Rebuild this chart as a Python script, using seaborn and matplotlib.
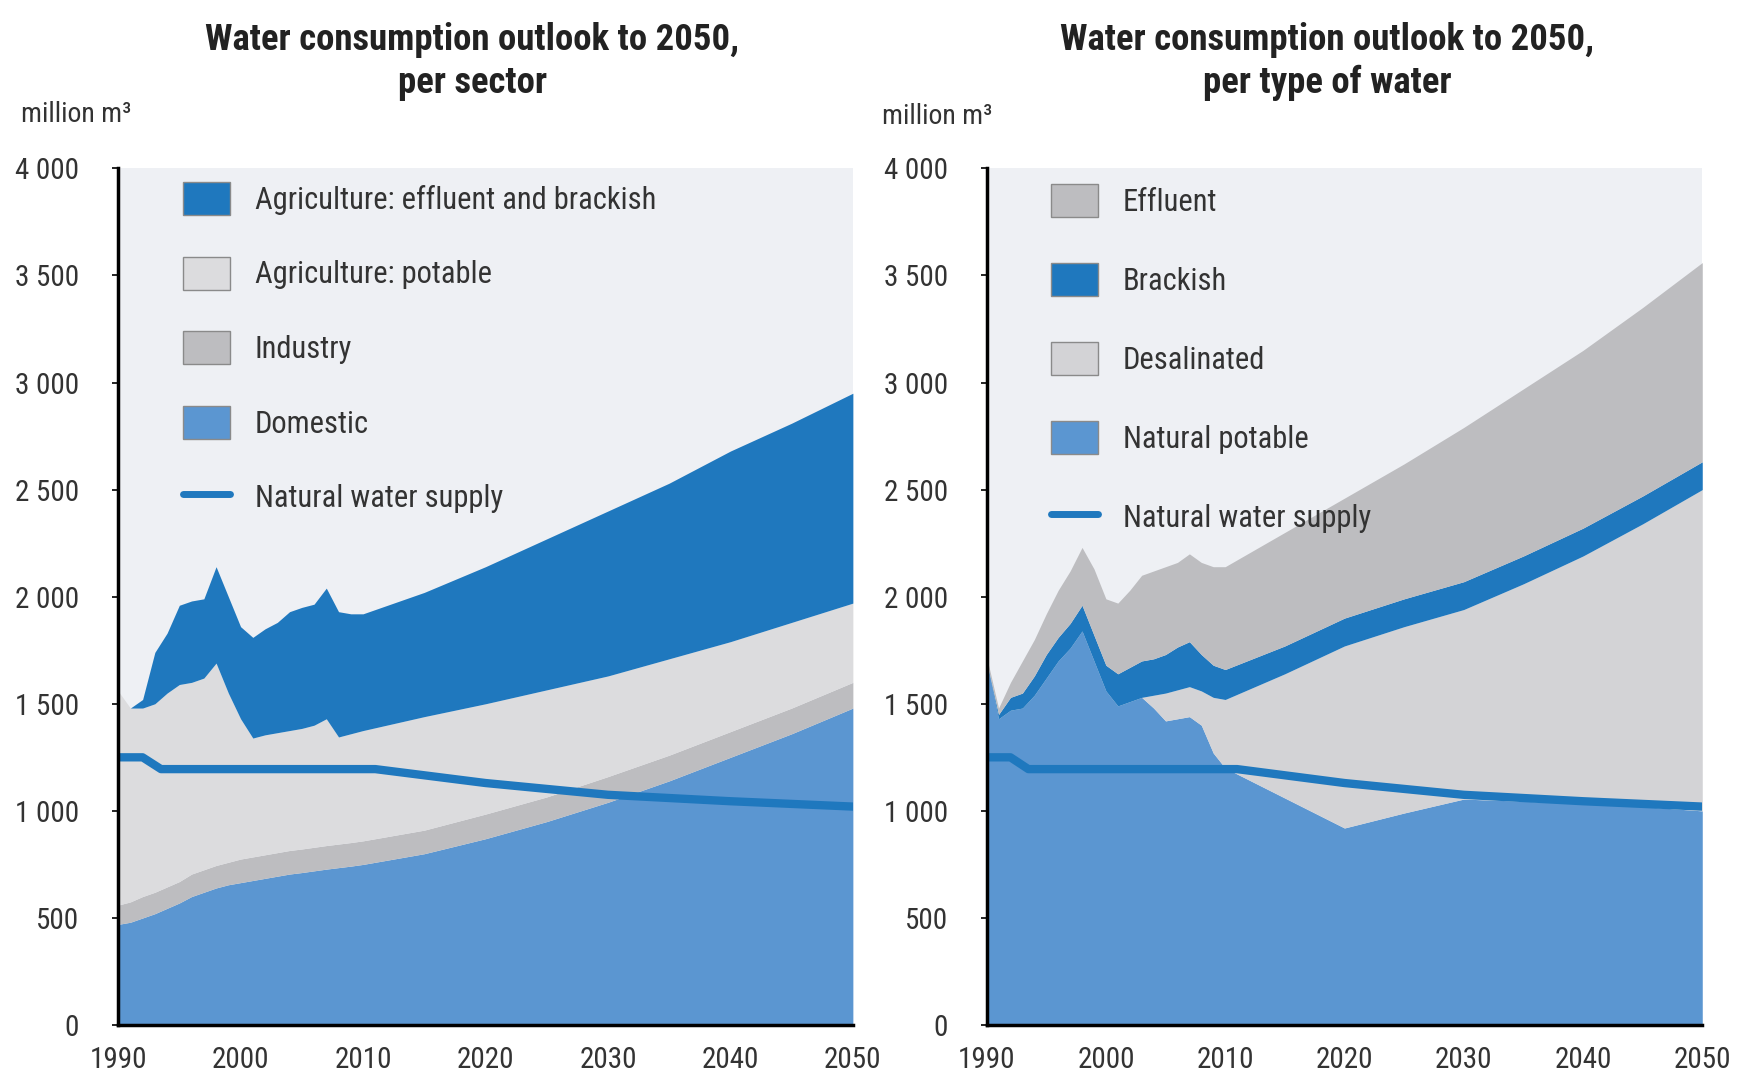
import numpy as np
import pandas as pd
import seaborn as sns
import matplotlib.pyplot as plt
from matplotlib.patches import Patch
from matplotlib.lines import Line2D
from matplotlib.ticker import FuncFormatter, MultipleLocator

# === data (million m3) ===
years = [1990, 1991, 1992, 1993, 1994, 1995, 1996, 1997, 1998, 1999, 2000,
         2001, 2002, 2003, 2004, 2005, 2006, 2007, 2008, 2009, 2010,
         2015, 2020, 2025, 2030, 2035, 2040, 2045, 2050]

# per sector (stacked from the bottom)
domestic = [470, 480, 500, 520, 545, 570, 600, 620, 640, 655, 665,
            675, 685, 695, 705, 712, 720, 728, 735, 742, 750,
            800, 870, 950, 1040, 1140, 1250, 1360, 1480]
industry = [90, 95, 100, 100, 100, 100, 105, 105, 105, 105, 110,
            110, 110, 110, 110, 110, 110, 110, 110, 110, 110,
            110, 115, 115, 120, 120, 120, 120, 120]
agri_potable = [1000, 905, 880, 880, 905, 920, 895, 895, 945, 790, 655,
                555, 560, 560, 560, 563, 570, 592, 500, 508, 515,
                530, 515, 500, 470, 450, 420, 400, 370]
agri_eff_brack = [0, 0, 40, 240, 280, 370, 380, 370, 450, 450, 430,
                  470, 495, 515, 555, 565, 565, 610, 585, 560, 545,
                  580, 640, 705, 770, 820, 890, 930, 980]

# per type of water (stacked from the bottom)
natural_potable = [1700, 1430, 1470, 1480, 1540, 1620, 1700, 1760, 1840, 1700, 1560,
                   1490, 1510, 1530, 1480, 1420, 1430, 1440, 1400, 1270, 1200,
                   1060, 920, 990, 1055, 1045, 1035, 1020, 1000]
desalinated = [0, 0, 0, 0, 0, 0, 0, 0, 0, 0, 0,
               0, 0, 0, 60, 130, 135, 140, 160, 260, 320,
               580, 850, 870, 885, 1015, 1155, 1320, 1500]
brackish = [0, 20, 60, 70, 90, 110, 110, 115, 120, 120, 120,
            150, 160, 170, 170, 180, 200, 210, 170, 150, 140,
            130, 130, 130, 130, 130, 130, 130, 130]
effluent = [20, 30, 70, 150, 170, 190, 220, 245, 270, 310, 310,
            330, 360, 400, 410, 410, 395, 410, 430, 460, 480,
            530, 560, 630, 720, 780, 830, 880, 930]

supply_years = [1990, 1992, 1993.5, 2011, 2020, 2030, 2040, 2050]
supply = [1250, 1250, 1195, 1195, 1130, 1075, 1045, 1020]

# === colours ===
DARK_BLUE = "#1f78be"
MID_BLUE = "#5b96d1"
LIGHT_GREY = "#dcdcde"
MID_GREY = "#bdbdc0"
DESAL_GREY = "#d3d3d6"
PLOT_BG = "#eef0f4"
TXT = "#333333"

sns.set_theme(style="white")
plt.rcParams["font.family"] = ["Liberation Sans Narrow", "Roboto Condensed",
                               "DejaVu Sans Condensed", "Liberation Sans", "DejaVu Sans"]

fig = plt.figure(figsize=(17.37, 10.79), dpi=100)
ax1 = fig.add_axes([0.068, 0.050, 0.423, 0.794])
ax2 = fig.add_axes([0.568, 0.050, 0.412, 0.794])


def thousands(v, pos):
    return f"{int(v):,}".replace(",", " ")


def style_axes(ax):
    ax.set_facecolor(PLOT_BG)
    ax.set_xlim(1990, 2050)
    ax.set_ylim(0, 4000)
    ax.xaxis.set_major_locator(MultipleLocator(10))
    ax.xaxis.set_minor_locator(MultipleLocator(5))
    ax.yaxis.set_major_locator(MultipleLocator(500))
    ax.yaxis.set_major_formatter(FuncFormatter(thousands))
    for s in ["top", "right"]:
        ax.spines[s].set_visible(False)
    for s in ["left", "bottom"]:
        ax.spines[s].set_color("black")
        ax.spines[s].set_linewidth(2.5)
    ax.tick_params(axis="x", which="major", direction="in", length=7, width=1.5,
                   labelsize=21, pad=15, colors="black", labelcolor=TXT)
    ax.tick_params(axis="x", which="minor", direction="in", length=4, width=1.2, colors="black")
    ax.tick_params(axis="y", direction="out", length=4, width=1.2, left=True,
                   labelsize=21, pad=24, colors="black", labelcolor=TXT)
    ax.set_xlabel("")
    ax.set_ylabel("")


# === left: per sector ===
ax1.stackplot(years, domestic, industry, agri_potable, agri_eff_brack,
              colors=[MID_BLUE, MID_GREY, LIGHT_GREY, DARK_BLUE], linewidth=0)
sns.lineplot(x=supply_years, y=supply, ax=ax1, color=DARK_BLUE, linewidth=6)
style_axes(ax1)

h1 = [Patch(facecolor=DARK_BLUE, edgecolor="#8a8a8a", linewidth=1),
      Patch(facecolor=LIGHT_GREY, edgecolor="#8a8a8a", linewidth=1),
      Patch(facecolor=MID_GREY, edgecolor="#8a8a8a", linewidth=1),
      Patch(facecolor=MID_BLUE, edgecolor="#8a8a8a", linewidth=1),
      Line2D([0], [0], color=DARK_BLUE, linewidth=5)]
l1 = ["Agriculture: effluent and brackish", "Agriculture: potable", "Industry",
      "Domestic", "Natural water supply"]
ax1.legend(h1, l1, loc="upper left", bbox_to_anchor=(0.088, 0.984), frameon=False,
           fontsize=22, borderpad=0, borderaxespad=0, handlelength=1.55,
           handleheight=1.3, handletextpad=0.8, labelspacing=1.35,
           labelcolor=TXT)

# === right: per type of water ===
ax2.stackplot(years, natural_potable, desalinated, brackish, effluent,
              colors=[MID_BLUE, DESAL_GREY, DARK_BLUE, MID_GREY], linewidth=0)
sns.lineplot(x=supply_years, y=supply, ax=ax2, color=DARK_BLUE, linewidth=6)
style_axes(ax2)

h2 = [Patch(facecolor=MID_GREY, edgecolor="#8a8a8a", linewidth=1),
      Patch(facecolor=DARK_BLUE, edgecolor="#8a8a8a", linewidth=1),
      Patch(facecolor=DESAL_GREY, edgecolor="#8a8a8a", linewidth=1),
      Patch(facecolor=MID_BLUE, edgecolor="#8a8a8a", linewidth=1),
      Line2D([0], [0], color=DARK_BLUE, linewidth=5)]
l2 = ["Effluent", "Brackish", "Desalinated", "Natural potable", "Natural water supply"]
ax2.legend(h2, l2, loc="upper left", bbox_to_anchor=(0.09, 0.982), frameon=False,
           fontsize=22, borderpad=0, borderaxespad=0, handlelength=1.55,
           handleheight=1.3, handletextpad=0.8, labelspacing=1.5,
           labelcolor=TXT)

# === titles and unit labels ===
fig.text(0.272, 0.943, "Water consumption outlook to 2050,\nper sector", ha="center",
         va="center", fontsize=26.5, fontweight="bold", color="#222222", linespacing=1.25)
fig.text(0.764, 0.943, "Water consumption outlook to 2050,\nper type of water", ha="center",
         va="center", fontsize=26.5, fontweight="bold", color="#222222", linespacing=1.25)
fig.text(0.012, 0.894, "million m\u00b3", ha="left", va="center", fontsize=20, color=TXT)
fig.text(0.508, 0.892, "million m\u00b3", ha="left", va="center", fontsize=20, color=TXT)

plt.savefig("out.png", dpi=100, facecolor="white")
